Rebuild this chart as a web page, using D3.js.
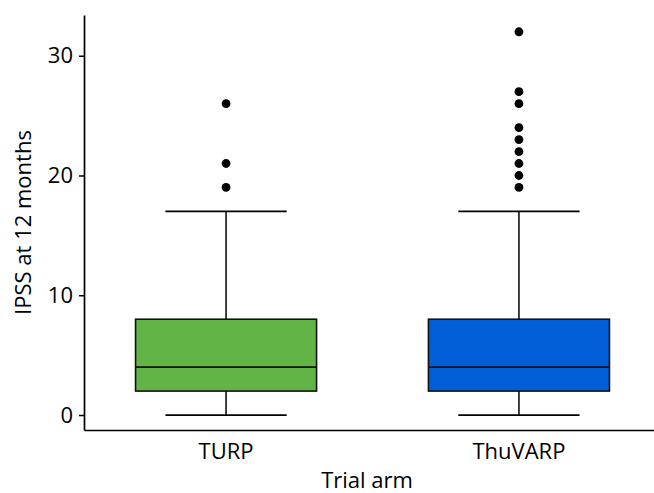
<!DOCTYPE html>
<html>
<head>
<meta charset="utf-8">
<script src="https://cdn.jsdelivr.net/npm/d3@7"></script>
<style>
  body { margin: 0; background: #fff; }
  text { font-family: "Open Sans", "Noto Sans", sans-serif; }
</style>
</head>
<body>
<div class="chart"></div>
<script>
// IPSS at 12 months by trial arm
let arms = ['TURP', 'ThuVARP'];
let whiskerLow = [0, 0];
let q1 = [2, 2];
let medians = [4, 4];
let q3 = [8, 8];
let whiskerHigh = [17, 17];
let outliers = [
	[19, 21, 26],
	[19, 20, 21, 22, 23, 24, 26, 27, 32]
];
let yTicks = [0, 10, 20, 30];
let colours = ['#63b446', '#005ed6'];

let W = 654, H = 493;
let margin = {top: 15, right: 0, bottom: 63, left: 84};
let font = '"Open Sans", "Noto Sans", sans-serif';

let svg = d3.select('.chart')
	.append('svg')
	.attr('width', W)
	.attr('height', H);

let yScale = d3.scaleLinear()
	.domain([-1.25, 33.4])
	.range([H - margin.bottom, margin.top]);

// band runs past the right edge, like the original
let xScale = d3.scaleBand()
	.domain(arms)
	.range([margin.left, margin.left + 577])
	.paddingInner(0.382)
	.paddingOuter(0.176);

let boxes = arms.map((a, i) => ({
	arm: a, lo: whiskerLow[i], q1: q1[i], med: medians[i], q3: q3[i], hi: whiskerHigh[i],
	out: outliers[i], col: colours[i]
}));

let g = svg.selectAll('.box')
	.data(boxes)
	.enter()
	.append('g')
	.attr('class', 'box');

let bw = xScale.bandwidth();
let cx = d => xScale(d.arm) + bw / 2;
let capW = bw * 0.67;

// whiskers
g.append('line')
	.attr('x1', cx).attr('x2', cx)
	.attr('y1', d => yScale(d.hi)).attr('y2', d => yScale(d.q3))
	.style('stroke', '#000').style('stroke-width', 1.5);
g.append('line')
	.attr('x1', cx).attr('x2', cx)
	.attr('y1', d => yScale(d.lo)).attr('y2', d => yScale(d.q1))
	.style('stroke', '#000').style('stroke-width', 1.5);
g.append('line')
	.attr('x1', d => cx(d) - capW / 2).attr('x2', d => cx(d) + capW / 2)
	.attr('y1', d => yScale(d.hi)).attr('y2', d => yScale(d.hi))
	.style('stroke', '#000').style('stroke-width', 1.6);
g.append('line')
	.attr('x1', d => cx(d) - capW / 2).attr('x2', d => cx(d) + capW / 2)
	.attr('y1', d => yScale(d.lo)).attr('y2', d => yScale(d.lo))
	.style('stroke', '#000').style('stroke-width', 1.8);

// box
g.append('rect')
	.attr('x', d => xScale(d.arm))
	.attr('width', bw)
	.attr('y', d => yScale(d.q3))
	.attr('height', d => yScale(d.q1) - yScale(d.q3))
	.style('fill', d => d.col)
	.style('stroke', '#111')
	.style('stroke-width', 1.6);

g.append('line')
	.attr('x1', d => xScale(d.arm)).attr('x2', d => xScale(d.arm) + bw)
	.attr('y1', d => yScale(d.med)).attr('y2', d => yScale(d.med))
	.style('stroke', '#111').style('stroke-width', 1.6);

// outliers
g.selectAll('circle')
	.data(d => d.out.map(v => ({v: v, arm: d.arm})))
	.enter()
	.append('circle')
	.attr('cx', cx)
	.attr('cy', d => yScale(d.v))
	.attr('r', 4.4)
	.style('fill', '#000');

// axes
let yAxis = d3.axisLeft(yScale)
	.tickValues(yTicks)
	.tickSizeInner(5)
	.tickSizeOuter(0)
	.tickPadding(6);

svg.append('g')
	.attr('transform', 'translate(' + margin.left + ', 0)')
	.call(yAxis)
	.call(a => a.selectAll('text').style('font-size', '22px').style('fill', '#000')
		.style('font-family', font))
	.call(a => a.selectAll('line').style('stroke-width', 1.5))
	.call(a => a.select('.domain').style('stroke-width', 1.7));

let xAxis = d3.axisBottom(xScale)
	.tickSizeInner(0)
	.tickSizeOuter(0)
	.tickPadding(13);

svg.append('g')
	.attr('transform', 'translate(0, ' + (H - margin.bottom) + ')')
	.call(xAxis)
	.call(a => a.selectAll('text').style('font-size', '22px').style('fill', '#000')
		.style('font-family', font))
	.call(a => a.select('.domain').style('stroke-width', 1.7));

// titles
svg.append('text')
	.attr('x', 367)
	.attr('y', 488)
	.attr('text-anchor', 'middle')
	.style('font-size', '22px')
	.text('Trial arm');

svg.append('text')
	.attr('transform', 'translate(31, ' + ((margin.top + H - margin.bottom) / 2) + ') rotate(-90)')
	.attr('text-anchor', 'middle')
	.style('font-size', '22px')
	.text('IPSS at 12 months');
</script>
</body>
</html>
